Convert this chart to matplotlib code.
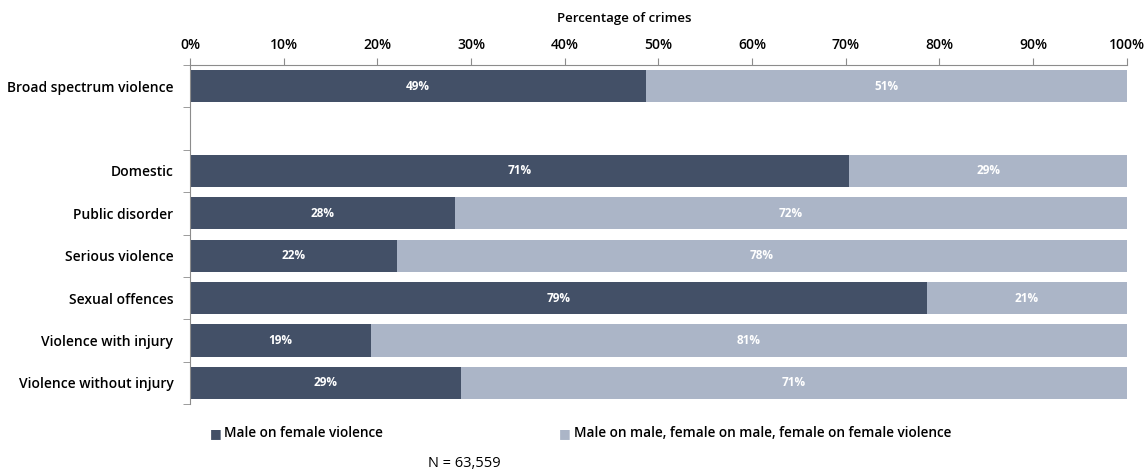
import matplotlib.pyplot as plt
from matplotlib.ticker import FixedLocator, PercentFormatter

plt.rcParams['font.family'] = ['Open Sans', 'DejaVu Sans']

categories = ['Broad spectrum violence', '', 'Domestic', 'Public disorder', 'Serious violence',
              'Sexual offences', 'Violence with injury', 'Violence without injury']
male_on_female = [48.7, None, 70.4, 28.3, 22.1, 78.7, 19.3, 28.9]
male_labels = ['49%', '', '71%', '28%', '22%', '79%', '19%', '29%']
other_labels = ['51%', '', '29%', '72%', '78%', '21%', '81%', '71%']

dark = '#435067'
light = '#abb5c7'
grey = '#8c8c8c'

fig = plt.figure(figsize=(11.45, 4.71), dpi=100)
ax = fig.add_axes([0.166, 0.142, 0.818, 0.72])

for i, v in enumerate(male_on_female):
    if v is None:
        continue
    ax.barh(i, v, height=0.76, color=dark, edgecolor='none')
    ax.barh(i, 100 - v, left=v, height=0.76, color=light, edgecolor='none')
    ax.text(v / 2, i, male_labels[i], ha='center', va='center', color='white',
            fontsize=8.5, fontweight='bold')
    ax.text(v + (100 - v) / 2, i, other_labels[i], ha='center', va='center', color='white',
            fontsize=8.5, fontweight='bold')

ax.set_xlim(0, 100)
ax.set_ylim(7.5, -0.5)
ax.xaxis.tick_top()
ax.xaxis.set_label_position('top')
ax.set_xticks(range(0, 101, 10))
ax.xaxis.set_major_formatter(PercentFormatter(decimals=0))
ax.set_xlabel('Percentage of crimes', fontsize=9.5, fontweight='semibold', labelpad=12,
              x=0.464)
ax.tick_params(axis='x', length=5, color=grey, labelsize=10, pad=4)
for lbl in ax.get_xticklabels():
    lbl.set_fontweight('semibold')

ax.set_yticks(range(len(categories)))
ax.set_yticklabels(categories, fontsize=10, fontweight='semibold')
ax.tick_params(axis='y', which='major', length=0, pad=12)
ax.yaxis.set_minor_locator(FixedLocator([i - 0.5 for i in range(len(categories) + 1)]))
ax.tick_params(axis='y', which='minor', length=5, color=grey)

for s in ['right', 'bottom']:
    ax.spines[s].set_visible(False)
for s in ['top', 'left']:
    ax.spines[s].set_color(grey)

fig.text(0.183, 0.08, '\u25a0', color=dark, fontsize=9, va='center')
fig.text(0.196, 0.08, 'Male on female violence', fontsize=9.8, fontweight='semibold', va='center')
fig.text(0.488, 0.08, '\u25a0', color=light, fontsize=9, va='center')
fig.text(0.501, 0.08, 'Male on male, female on male, female on female violence', fontsize=9.8,
         fontweight='semibold', va='center')
fig.text(0.374, 0.016, 'N = 63,559', fontsize=10.5, va='center')

fig.savefig('out.png', dpi=100)
